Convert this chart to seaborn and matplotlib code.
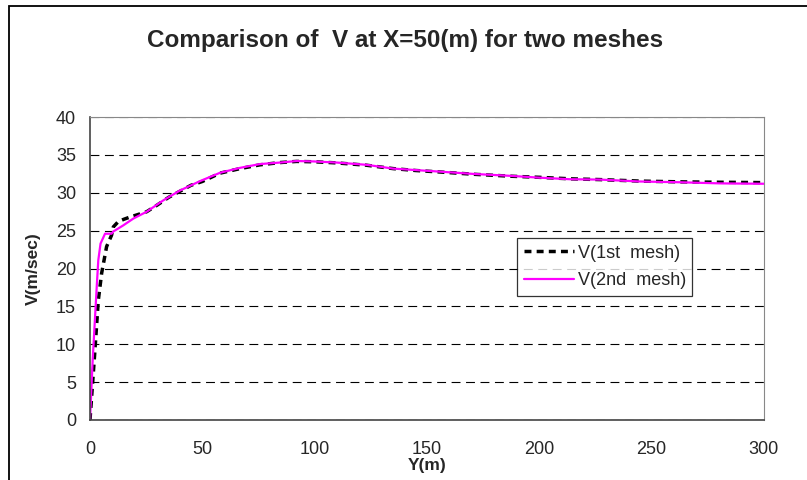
import numpy as np
import pandas as pd
import matplotlib
matplotlib.use("Agg")
import matplotlib.pyplot as plt
from matplotlib.patches import Rectangle
import seaborn as sns

# V profile at X=50 m
y_mesh1 = [0, 1.2, 2.2, 3.7, 5.2, 7.4, 9.6, 10.4, 12.6, 15, 17.8, 21, 25.2, 30, 35, 40, 45, 50,
           57.9, 66.8, 75.7, 84.6, 92, 100, 110, 123, 135, 145, 156, 171, 187, 200, 214, 227,
           245, 263, 280, 300]
v_mesh1 = [0, 5, 9.2, 15.8, 19.4, 22.9, 24.4, 25.5, 26.2, 26.5, 26.8, 27.1, 27.5, 28.4, 29.4, 30.2,
           31.0, 31.5, 32.6, 33.2, 33.7, 34.0, 34.15, 34.1, 33.95, 33.65, 33.2, 32.95, 32.75, 32.45,
           32.2, 32.05, 31.85, 31.75, 31.55, 31.45, 31.4, 31.35]

y_mesh2 = [0, 1.2, 3.0, 3.7, 4.7, 6.7, 9.6, 10.4, 14.8, 19.3, 25.2, 32.6, 40, 49, 57.9, 66.8, 75.7,
           84.6, 92, 99.4, 109.8, 123.2, 135, 145.4, 155.8, 170.6, 186.9, 200.3, 213.6, 227, 244.8,
           262.6, 280.4, 300]
v_mesh2 = [0, 7.9, 17.6, 21.1, 23.3, 24.6, 24.6, 24.9, 25.7, 26.6, 27.5, 29.0, 30.3, 31.55, 32.65,
           33.3, 33.8, 34.0, 34.2, 34.15, 34.0, 33.7, 33.2, 33.0, 32.8, 32.5, 32.25, 32.0, 31.8,
           31.75, 31.5, 31.4, 31.25, 31.2]

x_ticks = [0, 50, 100, 150, 200, 250, 300]
y_ticks = [0, 5, 10, 15, 20, 25, 30, 35, 40]

sns.set_style("white")
plt.rcParams['font.family'] = ['Liberation Sans', 'DejaVu Sans']

df1 = pd.DataFrame({'Y': y_mesh1, 'V': v_mesh1})
df2 = pd.DataFrame({'Y': y_mesh2, 'V': v_mesh2})

fig = plt.figure(figsize=(8.07, 4.80), dpi=100)
ax = fig.add_axes([0.1115, 0.125, 0.835, 0.631])

# outer chart frame (cut off at right and bottom like the reference)
fig.patches.append(Rectangle((9 / 807, -0.05), 1.1, 1 - 6 / 480 + 0.05, transform=fig.transFigure,
                             fill=False, edgecolor='black', lw=1.3, clip_on=False))

sns.lineplot(data=df1, x='Y', y='V', ax=ax, color='black', lw=2.5,
             linestyle=(0, (2.0, 1.5)), label='V(1st  mesh)', sort=False)
sns.lineplot(data=df2, x='Y', y='V', ax=ax, color='#ff00ff', lw=1.6,
             label='V(2nd  mesh)', sort=False)

ax.set_xlim(0, 300)
ax.set_ylim(0, 40)
ax.set_xticks(x_ticks)
ax.set_yticks(y_ticks)
ax.tick_params(axis='both', labelsize=13, length=5, width=1, color='#555555', direction='out', pad=5)
ax.tick_params(axis='x', pad=10)

ax.yaxis.grid(True, linestyle=(0, (8, 5)), color='black', lw=0.8)
ax.set_axisbelow(True)

for side in ['left', 'bottom']:
    ax.spines[side].set_color('#444444')
    ax.spines[side].set_linewidth(1.2)
ax.spines['right'].set_color('#888888')
ax.spines['top'].set_color('#888888')

ax.set_xlabel('Y(m)', fontsize=12.5, fontweight='bold', labelpad=0)
ax.set_ylabel('V(m/sec)', fontsize=12.5, fontweight='bold', labelpad=11)

fig.text(0.502, 0.915, 'Comparison of  V at X=50(m) for two meshes', ha='center', va='center',
         fontsize=17.5, fontweight='bold')

leg = ax.legend(loc='upper left', bbox_to_anchor=(0.634, 0.6), fontsize=13, frameon=True,
                fancybox=False, edgecolor='black', handlelength=2.8, borderpad=0.35,
                labelspacing=0.6, handletextpad=0.2, borderaxespad=0)
leg.get_frame().set_linewidth(0.9)

fig.savefig('out.png', dpi=100)
